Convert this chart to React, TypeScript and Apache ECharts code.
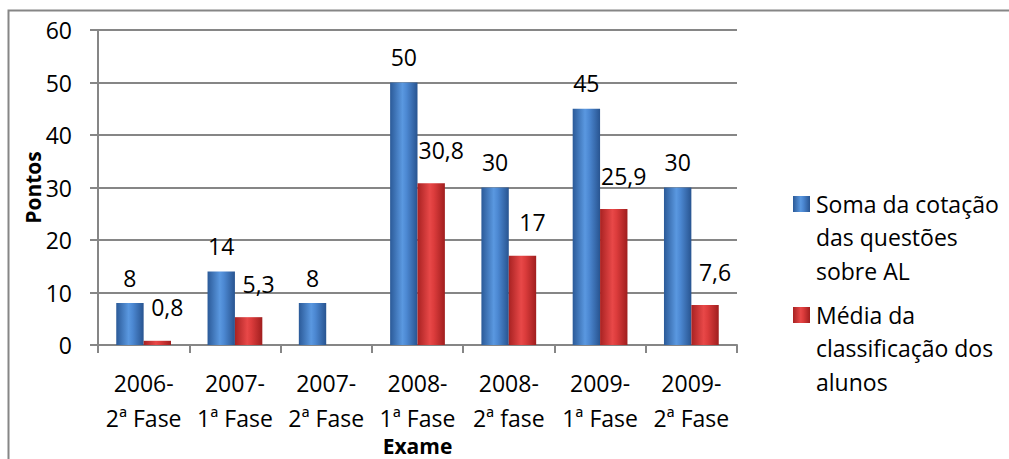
import React, { useEffect, useRef } from "react";
import * as echarts from "echarts";

const categories = [
  "2006-\n2ª Fase",
  "2007-\n1ª Fase",
  "2007-\n2ª Fase",
  "2008-\n1ª Fase",
  "2008-\n2ª fase",
  "2009-\n1ª Fase",
  "2009-\n2ª Fase",
];
const somaCotacao = [8, 14, 8, 50, 30, 45, 30];
const mediaClassificacao: (number | null)[] = [0.8, 5.3, null, 30.8, 17, 25.9, 7.6];
const seriesNames = ["Soma da cotação\ndas questões\nsobre AL", "Média da\nclassificação dos\nalunos"];
const yTicks = [0, 10, 20, 30, 40, 50, 60];

const FONT = "'Open Sans', 'Noto Sans', sans-serif";
const FS = 23;

const blueGrad = () =>
  new echarts.graphic.LinearGradient(0, 0, 1, 0, [
    { offset: 0, color: "#2b5a98" },
    { offset: 0.45, color: "#5a98e0" },
    { offset: 0.6, color: "#4c88d2" },
    { offset: 1, color: "#285490" },
  ]);
const redGrad = () =>
  new echarts.graphic.LinearGradient(0, 0, 1, 0, [
    { offset: 0, color: "#a82222" },
    { offset: 0.45, color: "#e84848" },
    { offset: 0.6, color: "#dc3c3c" },
    { offset: 1, color: "#a01e1e" },
  ]);

export default function App() {
  const ref = useRef<HTMLDivElement>(null);
  useEffect(() => {
    if (!ref.current) return;
    const chart = echarts.init(ref.current, undefined, { renderer: "svg" });
    const legendColors = [blueGrad(), redGrad()];
    const legendTops = [196, 307];
    const legendGraphics: any[] = [];
    seriesNames.forEach((name, i) => {
      legendGraphics.push({
        type: "rect",
        shape: { x: 793, y: legendTops[i], width: 17, height: 16 },
        style: { fill: legendColors[i] },
      });
      legendGraphics.push({
        type: "text",
        x: 816,
        y: legendTops[i] - 9,
        style: {
          text: name,
          font: `${FS}px ${FONT}`,
          fill: "#000",
          lineHeight: 33.5,
          verticalAlign: "top",
        },
      });
    });
    chart.setOption({
      animation: false,
      textStyle: { fontFamily: FONT },
      grid: { left: 98, right: 272, top: 30, bottom: 114, containLabel: false, outerBoundsMode: "none" },
      graphic: [
        {
          type: "polyline",
          shape: { points: [[8.5, 470], [8.5, 10.5], [1020, 10.5]] },
          style: { stroke: "#868686", lineWidth: 2, fill: "none" },
          silent: true,
        },
        ...legendGraphics,
      ],
      xAxis: {
        type: "category",
        data: categories,
        name: "Exame",
        nameLocation: "middle",
        nameGap: 90,
        nameMoveOverlap: false,
        nameTextStyle: { fontSize: 21, fontWeight: "bold", color: "#000", fontFamily: FONT },
        axisLine: { lineStyle: { color: "#868686", width: 2 } },
        axisTick: { show: true, length: 8, lineStyle: { color: "#868686", width: 2 } },
        axisLabel: {
          interval: 0,
          fontSize: FS,
          lineHeight: 35,
          margin: 20,
          color: "#000",
          fontFamily: FONT,
        },
      },
      yAxis: {
        type: "value",
        min: yTicks[0],
        max: yTicks[yTicks.length - 1],
        interval: 10,
        name: "Pontos",
        nameLocation: "middle",
        nameRotate: 90,
        nameGap: 55,
        nameMoveOverlap: false,
        nameTextStyle: { fontSize: 21, fontWeight: "bold", color: "#000", fontFamily: FONT },
        axisLine: { show: true, lineStyle: { color: "#868686", width: 2 } },
        axisTick: { show: true, length: 8, lineStyle: { color: "#868686", width: 2 } },
        splitLine: { lineStyle: { color: "#868686", width: 2 } },
        axisLabel: { fontSize: FS, margin: 26, color: "#000", fontFamily: FONT },
      },
      series: [
        {
          name: seriesNames[0],
          type: "bar",
          data: somaCotacao,
          barGap: "0%",
          barCategoryGap: "40%",
          itemStyle: { color: blueGrad() },
          label: {
            show: true,
            position: "top",
            distance: 14,
            fontSize: FS,
            color: "#000",
            fontFamily: FONT,
            formatter: (p: any) => String(p.value).replace(".", ","),
          },
        },
        {
          name: seriesNames[1],
          type: "bar",
          data: mediaClassificacao,
          itemStyle: { color: redGrad() },
          label: {
            show: true,
            position: "top",
            distance: 14,
            offset: [10, -8],
            fontSize: FS,
            color: "#000",
            fontFamily: FONT,
            formatter: (p: any) => String(p.value).replace(".", ","),
          },
        },
      ],
    });
    return () => chart.dispose();
  }, []);
  return (
    <div
      ref={ref}
      style={{ position: "absolute", left: 0, top: 0, width: 1009, height: 459, background: "#fff" }}
    />
  );
}
